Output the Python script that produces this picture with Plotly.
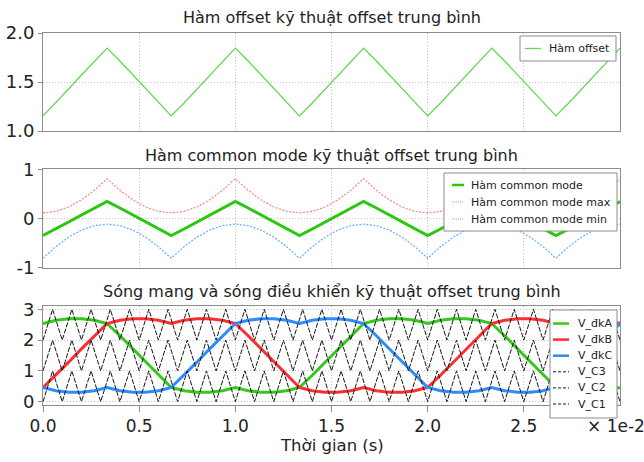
import plotly.graph_objects as go

# ---------------- data (time in units of 1e-2 s) ----------------
time_e2 = [0.0, 0.0667, 0.1333, 0.2, 0.2667, 0.3333, 0.4, 0.4667, 0.5333, 0.6,
           0.6667, 0.7333, 0.8, 0.8667, 0.9333, 1.0, 1.0667, 1.1333, 1.2, 1.2667,
           1.3333, 1.4, 1.4667, 1.5333, 1.6, 1.6667, 1.7333, 1.8, 1.8667, 1.9333,
           2.0, 2.0667, 2.1333, 2.2, 2.2667, 2.3333, 2.4, 2.4667, 2.5333, 2.6,
           2.6667, 2.7333, 2.8, 2.8667, 2.9333, 3.0]

offset_fn = [1.154, 1.286, 1.428, 1.572, 1.714, 1.846, 1.714, 1.572, 1.428, 1.286,
             1.154, 1.286, 1.428, 1.572, 1.714, 1.846, 1.714, 1.572, 1.428, 1.286,
             1.154, 1.286, 1.428, 1.572, 1.714, 1.846, 1.714, 1.572, 1.428, 1.286,
             1.154, 1.286, 1.428, 1.572, 1.714, 1.846, 1.714, 1.572, 1.428, 1.286,
             1.154, 1.286, 1.428, 1.572, 1.714, 1.846]

common_mode = [-0.346, -0.214, -0.072, 0.072, 0.214, 0.346, 0.214, 0.072, -0.072, -0.214,
               -0.346, -0.214, -0.072, 0.072, 0.214, 0.346, 0.214, 0.072, -0.072, -0.214,
               -0.346, -0.214, -0.072, 0.072, 0.214, 0.346, 0.214, 0.072, -0.072, -0.214,
               -0.346, -0.214, -0.072, 0.072, 0.214, 0.346, 0.214, 0.072, -0.072, -0.214,
               -0.346, -0.214, -0.072, 0.072, 0.214, 0.346]

common_mode_max = [0.114, 0.145, 0.234, 0.379, 0.573, 0.807, 0.573, 0.379, 0.234, 0.145,
                   0.114, 0.145, 0.234, 0.379, 0.573, 0.807, 0.573, 0.379, 0.234, 0.145,
                   0.114, 0.145, 0.234, 0.379, 0.573, 0.807, 0.573, 0.379, 0.234, 0.145,
                   0.114, 0.145, 0.234, 0.379, 0.573, 0.807, 0.573, 0.379, 0.234, 0.145,
                   0.114, 0.145, 0.234, 0.379, 0.573, 0.807]

common_mode_min = [-0.807, -0.573, -0.379, -0.234, -0.145, -0.114, -0.145, -0.234, -0.379, -0.573,
                   -0.807, -0.573, -0.379, -0.234, -0.145, -0.114, -0.145, -0.234, -0.379, -0.573,
                   -0.807, -0.573, -0.379, -0.234, -0.145, -0.114, -0.145, -0.234, -0.379, -0.573,
                   -0.807, -0.573, -0.379, -0.234, -0.145, -0.114, -0.145, -0.234, -0.379, -0.573,
                   -0.807, -0.573, -0.379, -0.234, -0.145, -0.114]

v_dkA = [2.539, 2.641, 2.693, 2.693, 2.641, 2.539, 2.142, 1.717, 1.283, 0.858,
         0.461, 0.359, 0.307, 0.307, 0.359, 0.461, 0.359, 0.307, 0.307, 0.359,
         0.461, 0.858, 1.283, 1.717, 2.142, 2.539, 2.641, 2.693, 2.693, 2.641,
         2.539, 2.641, 2.693, 2.693, 2.641, 2.539, 2.142, 1.717, 1.283, 0.858,
         0.461, 0.359, 0.307, 0.307, 0.359, 0.461]

v_dkB = [0.461, 0.858, 1.283, 1.717, 2.142, 2.539, 2.641, 2.693, 2.693, 2.641,
         2.539, 2.641, 2.693, 2.693, 2.641, 2.539, 2.142, 1.717, 1.283, 0.858,
         0.461, 0.359, 0.307, 0.307, 0.359, 0.461, 0.359, 0.307, 0.307, 0.359,
         0.461, 0.858, 1.283, 1.717, 2.142, 2.539, 2.641, 2.693, 2.693, 2.641,
         2.539, 2.641, 2.693, 2.693, 2.641, 2.539]

v_dkC = [0.461, 0.359, 0.307, 0.307, 0.359, 0.461, 0.359, 0.307, 0.307, 0.359,
         0.461, 0.858, 1.283, 1.717, 2.142, 2.539, 2.641, 2.693, 2.693, 2.641,
         2.539, 2.641, 2.693, 2.693, 2.641, 2.539, 2.142, 1.717, 1.283, 0.858,
         0.461, 0.359, 0.307, 0.307, 0.359, 0.461, 0.359, 0.307, 0.307, 0.359,
         0.461, 0.858, 1.283, 1.717, 2.142, 2.539]

carrier_t = [0.0, 0.05, 0.1, 0.15, 0.2, 0.25, 0.3, 0.35, 0.4, 0.45,
             0.5, 0.55, 0.6, 0.65, 0.7, 0.75, 0.8, 0.85, 0.9, 0.95,
             1.0, 1.05, 1.1, 1.15, 1.2, 1.25, 1.3, 1.35, 1.4, 1.45,
             1.5, 1.55, 1.6, 1.65, 1.7, 1.75, 1.8, 1.85, 1.9, 1.95,
             2.0, 2.05, 2.1, 2.15, 2.2, 2.25, 2.3, 2.35, 2.4, 2.45,
             2.5, 2.55, 2.6, 2.65, 2.7, 2.75, 2.8, 2.85, 2.9, 2.95, 3.0]

v_C1 = [0, 1, 0, 1, 0, 1, 0, 1, 0, 1, 0, 1, 0, 1, 0, 1, 0, 1, 0, 1,
        0, 1, 0, 1, 0, 1, 0, 1, 0, 1, 0, 1, 0, 1, 0, 1, 0, 1, 0, 1,
        0, 1, 0, 1, 0, 1, 0, 1, 0, 1, 0, 1, 0, 1, 0, 1, 0, 1, 0, 1, 0]
v_C2 = [1, 2, 1, 2, 1, 2, 1, 2, 1, 2, 1, 2, 1, 2, 1, 2, 1, 2, 1, 2,
        1, 2, 1, 2, 1, 2, 1, 2, 1, 2, 1, 2, 1, 2, 1, 2, 1, 2, 1, 2,
        1, 2, 1, 2, 1, 2, 1, 2, 1, 2, 1, 2, 1, 2, 1, 2, 1, 2, 1, 2, 1]
v_C3 = [2, 3, 2, 3, 2, 3, 2, 3, 2, 3, 2, 3, 2, 3, 2, 3, 2, 3, 2, 3,
        2, 3, 2, 3, 2, 3, 2, 3, 2, 3, 2, 3, 2, 3, 2, 3, 2, 3, 2, 3,
        2, 3, 2, 3, 2, 3, 2, 3, 2, 3, 2, 3, 2, 3, 2, 3, 2, 3, 2, 3, 2]

x_tick_vals = [0.0, 0.5, 1.0, 1.5, 2.0, 2.5]
x_tick_text = ["0.0", "0.5", "1.0", "1.5", "2.0", "2.5"]

titles = ["Hàm offset kỹ thuật offset trung bình",
          "Hàm common mode kỹ thuật offset trung bình",
          "Sóng mang và sóng điều khiển kỹ thuật offset trung bình"]
x_title = "Thời gian (s)"
x_scale_label = "× 1e-2"

# ---------------- figure ----------------
FONT = "DejaVu Sans"
W, H = 644, 462
ML, MR, MT, MB = 43, 24, 33, 57
PH = H - MT - MB
PW = W - ML - MR


def py(pix):
    return (H - MB - pix) / PH


def px(pix):
    return (pix - ML) / PW


fig = go.Figure()

# (name, x, y, axis-suffix, colour, width, dash, legend-group)
series = [
    ("Hàm offset", time_e2, offset_fn, "", "#62d84e", 1.3, "solid", 0),
    ("Hàm common mode", time_e2, common_mode, "2", "#2ac80c", 3, "solid", 1),
    ("Hàm common mode max", time_e2, common_mode_max, "2", "#ff8484", 1.2, "2px,1.5px", 1),
    ("Hàm common mode min", time_e2, common_mode_min, "2", "#6aabff", 1.2, "2px,1.5px", 1),
    ("V_đkA", time_e2, v_dkA, "3", "#33c81a", 3, "solid", 2),
    ("V_đkB", time_e2, v_dkB, "3", "#ff2d2d", 3, "solid", 2),
    ("V_đkC", time_e2, v_dkC, "3", "#2c8cff", 3, "solid", 2),
    ("V_C3", carrier_t, v_C3, "3", "#161616", 1, "5px,1.5px", 2),
    ("V_C2", carrier_t, v_C2, "3", "#161616", 1, "5px,1.5px", 2),
    ("V_C1", carrier_t, v_C1, "3", "#161616", 1, "5px,1.5px", 2),
]

for name, xs, ys, ax, col, wd, dash, grp in series:
    fig.add_trace(go.Scatter(x=xs, y=ys, mode="lines", name=name,
                             line=dict(color=col, width=wd, dash=dash),
                             xaxis="x" + ax, yaxis="y" + ax, showlegend=False))

# ---- legend boxes (layout items, pixel geometry) ----
# box: left, right, top, bottom, first row y, row step, line x0, line x1, text x
legend_boxes = [
    (520, 616, 36, 61, 48.5, 16, 525, 541, 547),
    (444, 617, 173, 231, 185, 17, 452, 464, 469),
    (550, 617, 310, 418, 323.5, 16.1, 553, 569, 576),
]
shapes = []
annos = []
for gi, (l, r, t, b, y0, dy, lx0, lx1, tx) in enumerate(legend_boxes):
    shapes.append(dict(type="rect", xref="paper", yref="paper",
                       x0=px(l), x1=px(r), y0=py(b), y1=py(t),
                       fillcolor="white", line=dict(color="#8c8c8c", width=1), layer="above"))
    rows = [s for s in series if s[7] == gi]
    for i, (name, xs, ys, ax, col, wd, dash, grp) in enumerate(rows):
        yy = y0 + i * dy
        if dash == "solid":
            ldash, lw = "solid", (2.5 if wd > 1.5 else wd)
        elif wd == 1:
            ldash, lw = "3px,2px", 1
        else:
            ldash, lw = "1px,1px", 1.2
        shapes.append(dict(type="line", xref="paper", yref="paper",
                           x0=px(lx0), x1=px(lx1), y0=py(yy), y1=py(yy),
                           line=dict(color=col, width=lw, dash=ldash), layer="above"))
        annos.append(dict(text=name, xref="paper", yref="paper", x=px(tx), y=py(yy),
                          xanchor="left", yanchor="middle", showarrow=False,
                          font=dict(family=FONT, size=11, color="#222")))

axis_common = dict(range=[0, 3], showgrid=True, gridcolor="#c4c4c4", griddash="1px,2px",
                   gridwidth=1, zeroline=False, showline=True, linecolor="#8c8c8c",
                   linewidth=1, mirror=True, tickvals=x_tick_vals, ticktext=x_tick_text,
                   automargin=False)
yaxis_common = dict(showgrid=True, gridcolor="#c4c4c4", griddash="1px,2px", gridwidth=1,
                    zeroline=False, showline=True, linecolor="#8c8c8c", linewidth=1,
                    mirror=True, ticks="outside", ticklen=4, tickcolor="#8c8c8c",
                    tickfont=dict(family=FONT, size=18, color="#222"), automargin=False)

fig.update_layout(
    width=W, height=H, margin=dict(l=ML, r=MR, t=MT, b=MB, autoexpand=False),
    paper_bgcolor="white", plot_bgcolor="white",
    font=dict(family=FONT, color="#222"),
    showlegend=False,
    xaxis=dict(domain=[0, 1], anchor="y", showticklabels=False, **axis_common),
    xaxis2=dict(domain=[0, 1], anchor="y2", showticklabels=False, **axis_common),
    xaxis3=dict(domain=[0, 1], anchor="y3", showticklabels=True, ticks="outside",
                ticklen=6, tickcolor="#8c8c8c",
                tickfont=dict(family=FONT, size=17, color="#222"),
                **axis_common),
    yaxis=dict(domain=[py(131), py(33)], anchor="x", range=[1, 2],
               tickvals=[1.0, 1.5, 2.0], ticktext=["1.0", "1.5", "2.0"], **yaxis_common),
    yaxis2=dict(domain=[py(267.7), py(169.3)], anchor="x2", range=[-1, 1],
                tickvals=[-1, 0, 1], ticktext=["-1", "0", "1"], **yaxis_common),
    yaxis3=dict(domain=[0, py(306)], anchor="x3", range=[-0.107, 3.107],
                tickvals=[0, 1, 2, 3], ticktext=["0", "1", "2", "3"], **yaxis_common),
    shapes=shapes,
)

for t, ypix in zip(titles, [17, 155, 291]):
    annos.append(dict(text=t, xref="paper", yref="paper", x=0.5, y=py(ypix),
                      xanchor="center", yanchor="middle", showarrow=False,
                      font=dict(family=FONT, size=16, color="#222")))

annos.append(dict(text=x_title, xref="paper", yref="paper", x=0.5, y=py(446),
                  xanchor="center", yanchor="middle", showarrow=False,
                  font=dict(family=FONT, size=16.5, color="#222")))
annos.append(dict(text=x_scale_label, xref="paper", yref="paper", x=px(585), y=py(426),
                  xanchor="left", yanchor="middle", showarrow=False,
                  font=dict(family=FONT, size=17, color="#222")))

fig.update_layout(annotations=annos)
fig.write_html("out.html")
